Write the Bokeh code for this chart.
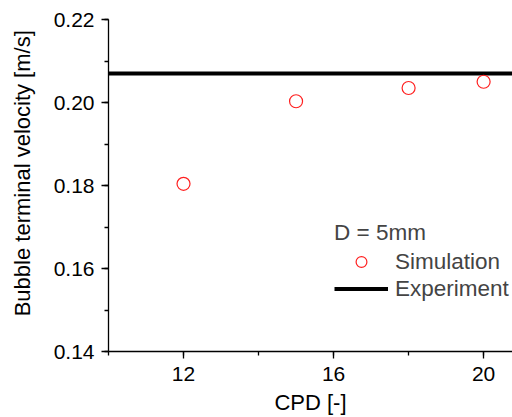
from bokeh.plotting import figure
from bokeh.models import Range1d, Legend, LegendItem, FixedTicker, NumeralTickFormatter
from bokeh.embed import file_html
from bokeh.resources import INLINE

cpd = [12, 15, 18, 20]
velocity_sim = [0.1804, 0.2003, 0.2035, 0.2050]
velocity_exp = 0.2070
x_ticks = [12, 16, 20]
y_ticks = [0.14, 0.16, 0.18, 0.20, 0.22]
x_label = "CPD [-]"
y_label = "Bubble terminal velocity [m/s]"

FONT = "Liberation Sans"
X0, X1 = 10.0, 20.77

p = figure(width=512, height=417, output_backend="svg", toolbar_location=None,
           x_range=Range1d(X0, X1), y_range=Range1d(0.14, 0.22),
           min_border_left=108, min_border_right=0, min_border_top=19, min_border_bottom=65)
p.outline_line_color = None
p.grid.visible = False
p.background_fill_color = "white"
p.border_fill_color = "white"

r_exp = p.line([X0, X1], [velocity_exp, velocity_exp], line_color="black", line_width=4)
r_sim = p.scatter(cpd, velocity_sim, marker="circle", size=13, fill_color=None,
                  line_color="#ff2020", line_width=1.2)

for ax in (p.xaxis[0], p.yaxis[0]):
    ax.axis_line_width = 1.3
    ax.axis_line_color = "black"
    ax.major_tick_line_color = "black"
    ax.minor_tick_line_color = "black"
    ax.major_tick_line_width = 1.3
    ax.minor_tick_line_width = 1.3
    ax.major_tick_in = 0
    ax.minor_tick_in = 0
    ax.major_tick_out = 7
    ax.minor_tick_out = 4
    ax.major_label_text_font = FONT
    ax.major_label_text_font_size = "21px"
    ax.major_label_text_color = "black"
    ax.axis_label_text_font = FONT
    ax.axis_label_text_font_style = "normal"
    ax.axis_label_text_color = "black"

p.xaxis.axis_label_text_font_size = "22px"
p.yaxis.axis_label_text_font_size = "22px"
p.xaxis.ticker = FixedTicker(ticks=x_ticks, minor_ticks=[10, 12, 14, 16, 18, 20])
p.yaxis.ticker = FixedTicker(ticks=y_ticks, minor_ticks=[0.14, 0.15, 0.16, 0.17, 0.18, 0.19, 0.20, 0.21, 0.22])
p.yaxis.formatter = NumeralTickFormatter(format="0.00")
p.xaxis.axis_label = x_label
# leading no-break spaces shift the vertical label upward, as in the reference
p.yaxis.axis_label = "\u00a0" * 4 + y_label
p.xaxis.major_label_standoff = 8
p.yaxis.major_label_standoff = 7
p.xaxis.axis_label_standoff = 6
p.yaxis.axis_label_standoff = 16

legend = Legend(items=[LegendItem(label="Simulation", renderers=[r_sim]),
                       LegendItem(label="Experiment", renderers=[r_exp])],
                location=(226, 49), title="D = 5mm")
legend.title_text_font = FONT
legend.title_text_font_size = "22.5px"
legend.title_text_font_style = "normal"
legend.label_text_font = FONT
legend.label_text_font_size = "22.5px"
legend.glyph_width = 54
legend.glyph_height = 27
legend.label_height = 27
legend.label_standoff = 7
legend.spacing = 0
legend.padding = 0
legend.margin = 0
legend.title_standoff = 2
legend.border_line_color = None
legend.background_fill_alpha = 0
p.add_layout(legend)

open("out.html", "w").write(file_html(p, INLINE))
